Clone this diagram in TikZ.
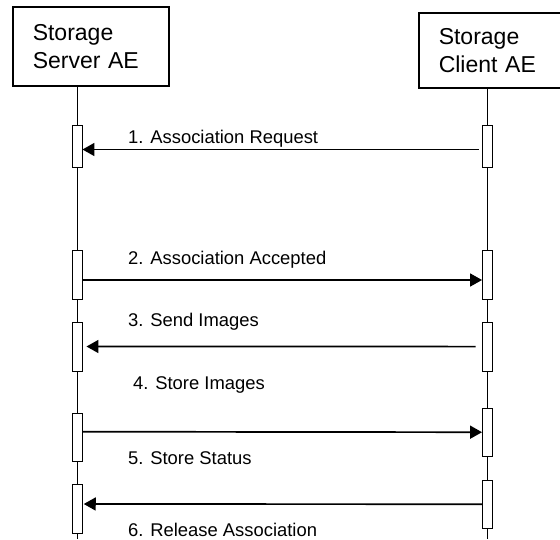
\documentclass[tikz,border=0pt]{standalone}
\usepackage{fontspec}
\setmainfont{Liberation Sans}
\usepackage{tikz}
\usetikzlibrary{arrows.meta}

\begin{document}
\begin{tikzpicture}[x=1pt, y=-1pt,
  actor/.style = {shape=rectangle, draw, line width=1.5pt, align=left,
    inner xsep=20pt, inner ysep=0pt, anchor=north west,
    font=\fontsize{23}{27.7}\selectfont},
  act/.style = {shape=rectangle, draw, fill=white, line width=0.9pt,
    minimum width=10pt, inner sep=0pt},
  life/.style = {draw, line width=0.9pt},
  msg/.style = {draw, line width=1.7pt, -{Triangle[length=12pt,width=13pt]}},
  lbl/.style = {anchor=base west, inner sep=0pt, font=\fontsize{18.4}{22}\selectfont}
  ]
  \useasboundingbox (0,0) rectangle (560,539);
  \clip (0,0) rectangle (560,539);

  \node[actor, text width=116pt, minimum height=79pt] (server) at (12,6) {Storage\\Server AE};
  \node[actor, text width=112pt, minimum height=75pt] (client) at (418,12) {Storage\\Client AE};

  \coordinate (sBot) at (77,539);
  \coordinate (cBot) at (487.5,539);
  \draw[life] (server.south -| sBot) -- (sBot);
  \draw[life] (client.south -| cBot) -- (cBot);

  \node[act, minimum height=42.5pt] (s1) at (77,146.3) {};
  \node[act, minimum height=48.6pt] (s2) at (77,275) {};
  \node[act, minimum height=49pt] (s3) at (77,346.5) {};
  \node[act, minimum height=48.7pt] (s4) at (77,437.3) {};
  \node[act, minimum height=48.6pt] (s5) at (77,509) {};
  \node[act, minimum height=42.3pt] (c1) at (487.5,146.2) {};
  \node[act, minimum height=48.6pt] (c2) at (487.5,275) {};
  \node[act, minimum height=48.7pt] (c3) at (487.5,346.6) {};
  \node[act, minimum height=48.3pt] (c4) at (487.5,432.2) {};
  \node[act, minimum height=48.3pt] (c5) at (487.5,504.2) {};

  \draw[msg] ([xshift=-3.3pt,yshift=-3.3pt]c1.west) -- ([yshift=-3.2pt]s1.east);
  \draw[msg] ([yshift=-5pt]s2.east) -- ([yshift=-5pt]c2.west);
  \draw[msg] ([xshift=-6.5pt]c3.west) -- ([xshift=4pt]s3.east);
  \draw[msg] ([yshift=5.6pt]s4.east) -- (c4.west);
  \draw[msg] (c5.west) -- ([xshift=1.3pt,yshift=5pt]s5.east);

  \node[lbl] (l1) at (128,143.5) {1. Association Request};
  \node[lbl] (l2) at (128,264) {2. Association Accepted};
  \node[lbl] (l3) at (128,326.5) {3. Send Images};
  \node[lbl] (l4) at (133,389.5) {4. Store Images};
  \node[lbl] (l5) at (128,464.5) {5. Store Status};
  \node[lbl] (l6) at (128,536.5) {6. Release Association};
\end{tikzpicture}
\end{document}
